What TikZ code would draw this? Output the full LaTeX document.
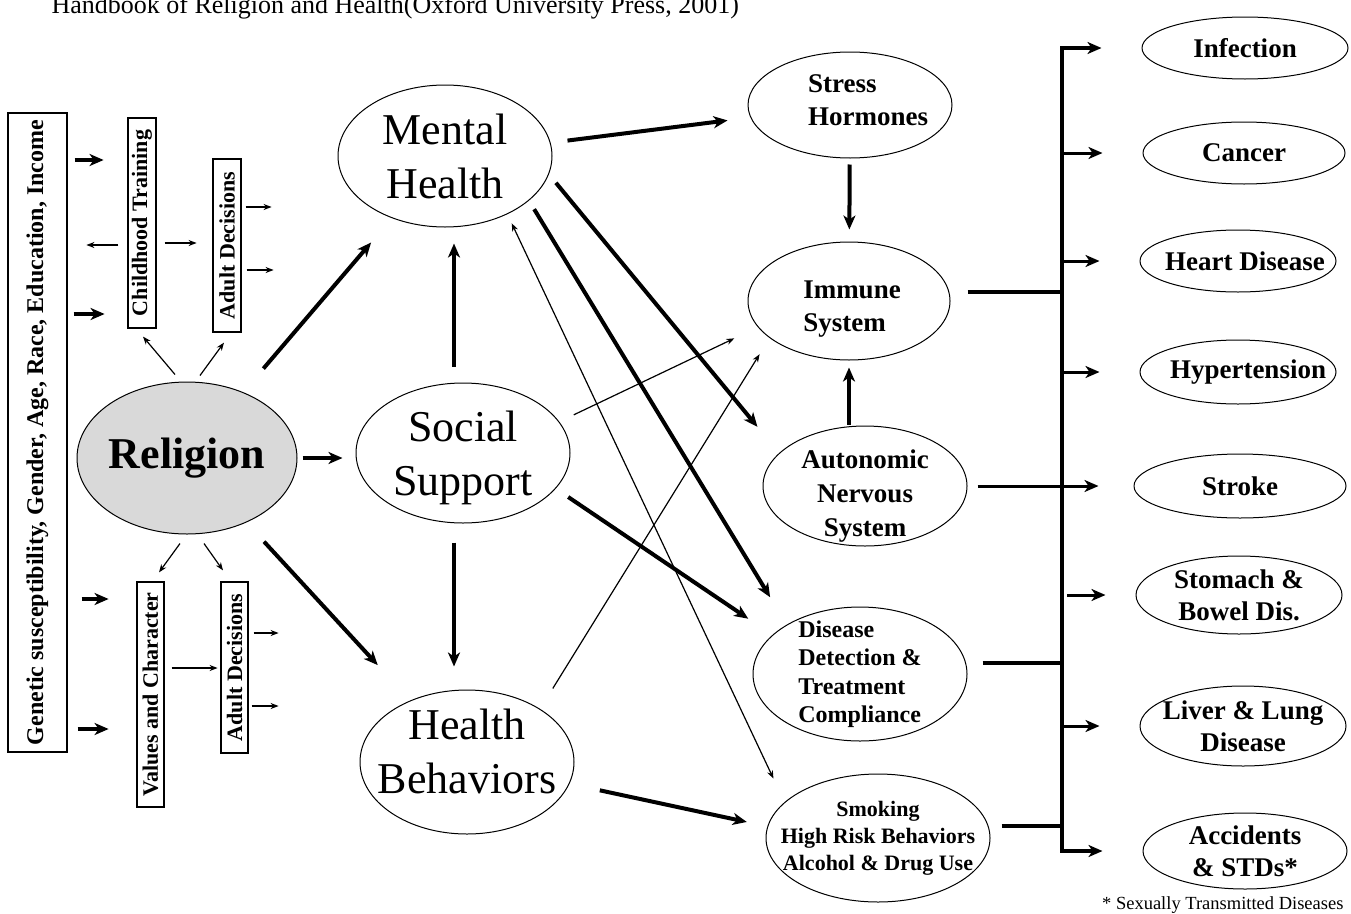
\documentclass[tikz,border=0pt]{standalone}
\usepackage{fontspec}
\setmainfont{Liberation Serif}
\usetikzlibrary{shapes.geometric}
\usetikzlibrary{arrows.meta}

\newcommand{\fsz}[2]{\fontsize{#1}{#2}\selectfont}
\newcommand{\lift}[3]{\raisebox{#1}[0pt][0pt]{\begin{tabular}{@{}#2@{}}#3\end{tabular}}}

\begin{document}
\begin{tikzpicture}[x=1pt,y=-1pt,
  ftip/.tip={Stealth[length=14pt,width=12pt,inset=4pt]},
  ttip/.tip={Stealth[length=8pt,width=6pt,inset=2.5pt]},
  oval/.style={ellipse, draw, line width=1pt, inner xsep=-80pt, inner ysep=-40pt, align=center},
  vbox/.style={draw, line width=1.2pt, rotate=90, inner sep=1pt, font=\bfseries\fsz{22}{26}},
  fat/.style={line width=4pt, -ftip},
  slim/.style={line width=1.2pt, -ttip},
  busline/.style={line width=3.5pt},
  busarrow/.style={line width=3pt, -ftip}]

\useasboundingbox (0,0) rectangle (1351,913);

\node[anchor=base west, font=\fsz{26}{30}] (title) at (48,13) {Handbook of Religion and Health(Oxford University Press, 2001)};

% left column
\node[vbox, minimum width=639pt, minimum height=59pt, font=\bfseries\fsz{24}{28}] (factors) at (37.5,432.5) {Genetic susceptibility, Gender, Age, Race, Education, Income};
\node[vbox, minimum width=210pt, minimum height=28pt] (child) at (142,223) {Childhood Training};
\node[vbox, minimum width=173pt, minimum height=28pt] (adultA) at (227,245.5) {Adult Decisions};
\node[vbox, minimum width=225pt, minimum height=27pt] (values) at (150.5,694.5) {Values and Character};
\node[vbox, minimum width=171pt, minimum height=27pt] (adultB) at (234.5,667.5) {Adult Decisions};

\node[oval, fill=black!15, minimum width=220pt, minimum height=152pt, font=\bfseries\fsz{44}{52}] (religion) at (187,458) {Religion};

% middle column
\node[oval, minimum width=214pt, minimum height=142pt, font=\fsz{44}{54}] (mental) at (445,156) {Mental\\Health};
\node[oval, minimum width=214pt, minimum height=140pt, font=\fsz{44}{54}] (social) at (463,453) {\lift{-11pt}{c}{Social\\Support}};
\node[oval, minimum width=214pt, minimum height=144pt, font=\fsz{44}{54}] (behav) at (467,762) {\lift{0pt}{c}{Health\\Behaviors}};

% pathways
\node[oval, minimum width=204pt, minimum height=106pt, font=\bfseries\fsz{27}{33}] (stress) at (850,105)
  {\hspace*{36pt}\lift{-3.6pt}{l}{Stress\\Hormones}};
\node[oval, minimum width=202pt, minimum height=118pt, font=\bfseries\fsz{27}{33}] (immune) at (849,301)
  {\hspace*{6pt}\lift{-13.6pt}{l}{Immune\\System}};
\node[oval, minimum width=204pt, minimum height=120pt, font=\bfseries\fsz{27}{34}] (auton) at (865,486)
  {\lift{-16pt}{c}{Autonomic\\Nervous\\System}};
\node[oval, minimum width=214pt, minimum height=134pt, align=left, font=\bfseries\fsz{24}{28.5}] (detect) at (860,674) {Disease\\Detection \&\\Treatment\\Compliance};
\node[oval, minimum width=224pt, minimum height=128pt, font=\bfseries\fsz{22}{27}] (smoke) at (878,838) {Smoking\\High Risk Behaviors\\Alcohol \& Drug Use};

% outcomes
\node[oval, minimum width=206pt, minimum height=62pt, font=\bfseries\fsz{27}{32}] (infection) at (1245,48) {Infection};
\node[oval, minimum width=202pt, minimum height=62pt, font=\bfseries\fsz{27}{32}] (cancer) at (1244,153) {Cancer};
\node[oval, minimum width=196pt, minimum height=62pt, font=\bfseries\fsz{27}{32}] (heart) at (1238,261) {\hspace*{14pt}Heart Disease};
\node[oval, minimum width=196pt, minimum height=64pt, font=\bfseries\fsz{27}{32}] (hyper) at (1238,372) {\hspace*{20pt}Hypertension};
\node[oval, minimum width=212pt, minimum height=64pt, font=\bfseries\fsz{27}{32}] (stroke) at (1240,486) {Stroke};
\node[oval, minimum width=206pt, minimum height=78pt, font=\bfseries\fsz{27}{32}] (stomach) at (1239,595) {Stomach \&\\Bowel Dis.};
\node[oval, minimum width=206pt, minimum height=80pt, font=\bfseries\fsz{27}{32}] (liver) at (1243,726) {Liver \& Lung\\Disease};
\node[oval, minimum width=204pt, minimum height=76pt, font=\bfseries\fsz{27}{32}] (accid) at (1245,851) {Accidents\\\& STDs*};

\node[anchor=base east, font=\fsz{18.5}{22}] (note) at (1347,909) {* Sexually Transmitted Diseases};

% small arrows on the left
\draw[fat] ([shift={(7,-272.5)}]factors.south) -- ++(29,0);
\draw[fat] ([shift={(6,-118.5)}]factors.south) -- ++(31,0);
\draw[fat] ([shift={(14,166.5)}]factors.south) -- ++(27,0);
\draw[fat] ([shift={(10,296.5)}]factors.south) -- ++(31,0);

\draw[slim] ([shift={(-9,22)}]child.north) -- ++(-32,0);
\draw[slim] ([shift={(8,20)}]child.south) -- ++(32,0);
\draw[slim] ([shift={(4,-38.5)}]adultA.south) -- ++(26,0);
\draw[slim] ([shift={(5,24.5)}]adultA.south) -- ++(27,0);
\draw[slim] ([shift={(7,-26.5)}]values.south) -- ++(46,0);
\draw[slim] ([shift={(5,-34.5)}]adultB.south) -- ++(25,0);
\draw[slim] ([shift={(3,38.5)}]adultB.south) -- ++(27,0);

\draw[slim] ([shift={(-12,-7)}]religion.north) -- ([shift={(1,8)}]child.west);
\draw[slim] ([shift={(13,-6)}]religion.north) -- ([shift={(-3,10)}]adultA.west);
\draw[slim] ([shift={(-7,9)}]religion.south) -- ([shift={(8.5,-9)}]values.east);
\draw[slim] ([shift={(17,9)}]religion.south) -- ([shift={(-11.5,-11)}]adultB.east);

% religion to the middle
\coordinate (col) at (454,0);
\draw[fat, shorten <=31pt, shorten >=32pt] (religion) -- (mental);
\draw[fat, shorten <=5pt, shorten >=13pt] (religion.east) -- (religion.east -| social.west);
\draw[fat, shorten <=26pt, shorten >=48pt] (religion) -- (behav);
\draw[fat, shorten <=16pt, shorten >=16pt] (col |- social.north) -- (col |- mental.south);
\draw[fat, shorten <=19pt, shorten >=23pt] (col |- social.south) -- (col |- behav.north);

% middle to pathways
\draw[fat, shorten <=17pt, shorten >=23pt] (mental) -- (stress);
\draw[fat, shorten <=11pt, shorten >=34pt] (mental.-10.5) -- (auton.159.6);
\draw[fat, shorten <=10pt, shorten >=32pt] (mental.-28.5) -- (detect.146.9);
\draw[fat, shorten <=15pt, shorten >=29pt] (social.-21.7) -- (detect.156.7);
\draw[fat, shorten <=31pt, shorten >=21pt] (behav.-12.4) -- (smoke.174.5);
\draw[slim, shorten <=16pt, shorten >=26pt] (social.18.8) -- (immune.-164.8);
\draw[slim, shorten <=24pt, shorten >=19pt] (behav.36) -- (immune.-155.8);
\draw[slim, ttip-ttip, shorten <=10pt, shorten >=26pt] (mental.-43.2) -- (smoke.159.5);

\draw[fat, shorten <=6pt, shorten >=12pt] (stress) -- (immune);
\draw[fat, shorten <=1pt, shorten >=7pt] (immune.south |- auton.north) -- (immune.south);

% bus to the diseases
\coordinate (bus) at (1062,0);
\coordinate (il) at ([shift={(17,-9)}]immune.east);
\coordinate (dl) at ([shift={(15,-11)}]detect.east);
\coordinate (sl) at ([shift={(11,-12)}]smoke.east);
\draw[busline] (il) -- (il -| bus);
\draw[busline] (dl) -- (dl -| bus);
\draw[busline] (sl) -- (sl -| bus);
\draw[busline, ftip-ftip] ([xshift=-40pt]infection.west) -- (bus |- infection) -- (bus |- accid) -- ([xshift=-40pt]accid.west);
\foreach \d in {cancer,heart,hyper,liver}
  \draw[busarrow] (bus |- \d) -- ([xshift=-40pt]\d.west);
\draw[busarrow] (bus |- stomach) ++(5,0) -- ([xshift=-30pt]stomach.west);
\draw[busarrow] ([xshift=10pt]auton.east) -- ([xshift=-35pt]stroke.west);

\end{tikzpicture}
\end{document}
